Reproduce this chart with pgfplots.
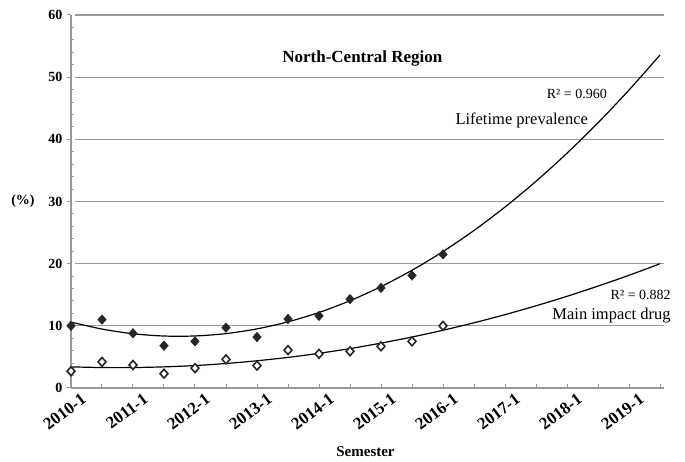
\documentclass[border=0pt]{standalone}
\usepackage{pgfplots}
\pgfplotsset{compat=1.18}
\usepackage{fontspec}
\setmainfont{Liberation Serif}

% Lifetime prevalence (filled diamonds)
\pgfplotstableread{
x y
0 10.0
1 11.0
2 8.8
3 6.8
4 7.5
5 9.7
6 8.2
7 11.1
8 11.6
9 14.3
10 16.1
11 18.1
12 21.5
}\lifetime
% Main impact drug (open diamonds)
\pgfplotstableread{
x y
0 2.7
1 4.2
2 3.7
3 2.3
4 3.2
5 4.6
6 3.6
7 6.1
8 5.5
9 5.9
10 6.7
11 7.5
12 10.0
}\mainimpact

\begin{document}
\begin{tikzpicture}
\useasboundingbox (-71pt,-74pt) rectangle (614pt,388pt);
\begin{axis}[
  at={(0,0)}, anchor=south west,
  scale only axis, width=589pt, height=373pt,
  xmin=0, xmax=19, ymin=0, ymax=60,
  clip=false,
  axis x line*=bottom, axis y line*=left,
  axis line style={draw=gray!80, line width=1.3pt, -},
  ytick={0,10,...,60},
  minor y tick num=4,
  xtick={0,2,...,18},
  minor xtick={1,3,...,19},
  xticklabels={2010-1,2011-1,2012-1,2013-1,2014-1,2015-1,2016-1,2017-1,2018-1,2019-1},
  tick align=inside,
  major tick length=4pt, minor tick length=3pt,
  tick style={draw=gray!80, line width=1pt},
  minor x tick style={yshift=1pt},
  major y tick style={xshift=-4pt},
  ymajorgrids,
  major grid style={draw=gray!80, line width=1.1pt, xshift=4pt},
  /pgf/number format/assume math mode=true,
  tick label style={font=\bfseries\fontsize{14}{14}\selectfont, black},
  yticklabel style={xshift=-5pt},
  xticklabel style={font=\bfseries\fontsize{17}{17}\selectfont, rotate=37, anchor=north east, inner sep=1pt, xshift=6pt, yshift=-8pt},
]
% fitted second-order trends
\addplot[black, line width=1.2pt, smooth] coordinates {
(0,10.60) (1,9.48) (2,8.73) (3,8.36) (4,8.37) (5,8.75) (6,9.51) (7,10.64)
(8,12.15) (9,14.04) (10,16.30) (11,18.94) (12,21.95) (13,25.34) (14,29.11)
(15,33.25) (16,37.77) (17,42.66) (18,47.93) (19,53.57)};
\addplot[black, line width=1.2pt, smooth] coordinates {
(0,3.40) (1,3.29) (2,3.29) (3,3.40) (4,3.61) (5,3.94) (6,4.38) (7,4.92)
(8,5.58) (9,6.34) (10,7.22) (11,8.20) (12,9.29) (13,10.49) (14,11.80)
(15,13.22) (16,14.75) (17,16.39) (18,18.13) (19,19.99)};
% observed values
\addplot[only marks, mark=diamond*, mark size=4.8pt, mark options={xscale=1.2, fill=black!85, draw=black!85}] table {\lifetime};
\addplot[only marks, mark=diamond*, mark size=4.4pt, mark options={xscale=1.2, fill=white, draw=black!85, line width=1.6pt}] table {\mainimpact};

\node[font=\bfseries\fontsize{17}{17}\selectfont] at (axis cs:9.4,53) {North-Central Region};
\node[anchor=east, font=\fontsize{14}{14}\selectfont, inner sep=0pt] at (axis cs:17.29,47.3) {R² = 0.960};
\node[anchor=east, font=\fontsize{16.5}{16.5}\selectfont, inner sep=0pt] at (axis cs:16.68,43.1) {Lifetime prevalence};
\node[anchor=east, font=\fontsize{14}{14}\selectfont, inner sep=0pt] at (axis cs:19.35,15.0) {R² = 0.882};
\node[anchor=east, font=\fontsize{16.5}{16.5}\selectfont, inner sep=0pt] at (axis cs:19.35,11.7) {Main impact drug};
\node[font=\bfseries\fontsize{14}{14}\selectfont] at (axis cs:0,30) [xshift=-48pt] {(\%)};
\node[font=\bfseries\fontsize{15}{15}\selectfont] at (axis cs:9.5,0) [yshift=-64pt] {Semester};
\end{axis}
\end{tikzpicture}
\end{document}
